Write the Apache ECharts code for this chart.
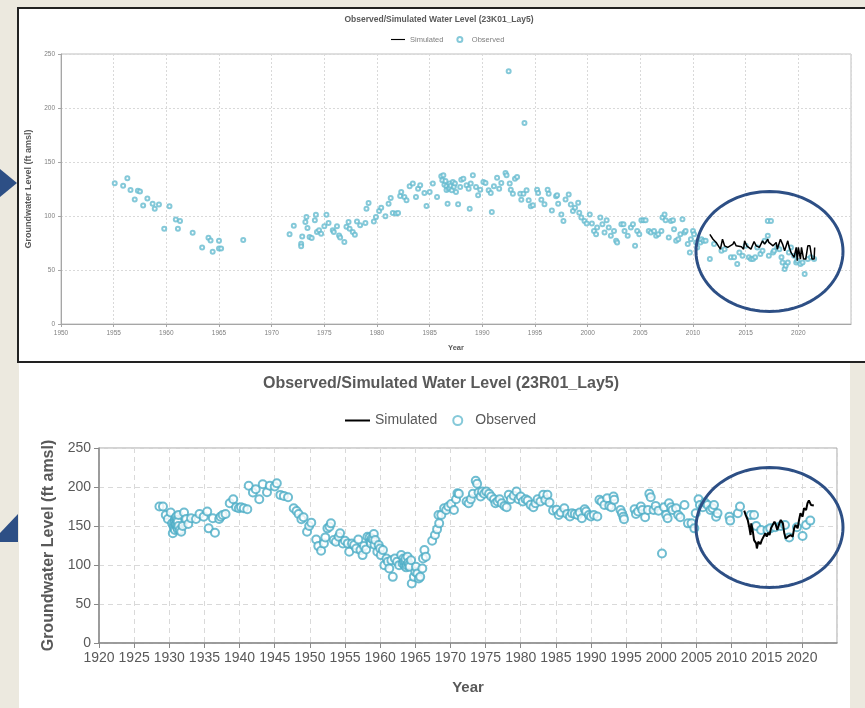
<!DOCTYPE html>
<html>
<head>
<meta charset="utf-8">
<script src="https://cdn.jsdelivr.net/npm/echarts@6/dist/echarts.min.js"></script>
<style>
html,body{margin:0;padding:0;background:#ECE9DF;}
#wrap{position:relative;width:865px;height:708px;overflow:hidden;background:#ECE9DF;}
#p1{position:absolute;left:17px;top:7px;width:848px;height:352px;background:#fff;border-top:2px solid #222;border-left:2px solid #222;border-bottom:2px solid #222;box-sizing:content-box;}
#p2{position:absolute;left:19px;top:363px;width:831px;height:345px;background:#fff;}
#chart{position:absolute;left:0;top:0;width:865px;height:708px;}
</style>
</head>
<body>
<div id="wrap">
<div id="p1"></div>
<div id="p2"></div>
<div id="chart"></div>
</div>
<script>
// ---------- DATA ----------
const titleTop = 'Observed/Simulated Water Level (23K01_Lay5)';
const titleBottom = 'Observed/Simulated Water Level (23R01_Lay5)';
const yearTicksTop = [1950, 2025];
const yearTicksBottom = [1920, 2025];

// Top chart: observed [year, ft amsl]
const obsTop = [
[1955.1,130.4],[1955.9,127.9],[1956.3,135],[1956.6,124],[1957.0,115.3],[1957.3,123.3],[1957.5,122.7],[1957.8,109.7],
[1958.2,116.2],[1958.7,111.3],[1958.9,106.7],[1959.3,110.7],[1959.8,88.2],[1960.3,109.1],[1960.9,96.8],[1961.1,88.2],
[1961.3,95.3],[1962.5,84.5],[1963.4,70.9],[1964.0,79.8],[1964.2,77.4],[1964.4,66.9],[1965.0,77.1],[1965.0,70.0],
[1965.2,70.0],[1967.3,77.7],
[1971.7,83],[1972.1,91],[1972.8,74.4],[1972.8,72],[1972.9,81],[1973.2,94.4],[1973.3,99],[1973.4,89],[1973.6,80.6],
[1973.8,79.6],[1974.1,96],[1974.2,101.2],[1974.3,85.2],[1974.5,86.7],[1974.7,83.6],[1975.0,90.4],[1975.2,101.2],
[1975.4,93.5],[1975.8,86.7],[1975.9,85.2],[1976.2,90.4],[1976.4,82],[1976.5,80],[1976.9,76],[1977.1,90],[1977.3,94.4],
[1977.4,88.3],[1977.7,85.2],[1977.9,82.7],[1978.1,95],[1978.4,91.4],[1978.9,93.5],[1979.0,106.8],[1979.2,112],
[1979.7,95],[1979.9,99],[1980.2,104.6],[1980.4,107.7],[1980.8,99.7],[1981.1,111.4],[1981.3,116.7],[1981.5,102.8],
[1981.8,102.2],[1982.0,102.8],[1982.2,118.5],[1982.3,122.2],[1982.6,117.6],[1982.8,114.5],[1983.1,127.5],[1983.4,130],
[1983.7,117.6],[1983.9,125.3],[1984.1,128.4],[1984.5,121.3],[1984.7,109.3],[1985.0,122.2],[1985.3,130],[1985.7,117.6],
[1986.1,136.7],[1986.2,133],[1986.3,137.7],[1986.4,129],[1986.5,132.4],[1986.6,127.5],[1986.6,124],[1986.7,111.4],
[1986.8,125.3],[1986.9,130],[1986.9,126],[1987.0,128],[1987.1,123.8],[1987.2,131.5],[1987.3,127],[1987.4,130],
[1987.5,122.2],[1987.7,110.8],[1987.9,126.8],[1988.0,133.6],[1988.2,134.6],[1988.5,128.4],[1988.7,125.3],[1988.8,106.8],
[1988.9,130],[1989.1,137.7],[1989.4,126.8],[1989.6,119.1],[1989.8,124.4],[1990.1,131.5],[1990.3,130.6],[1990.6,123.8],
[1990.8,121.3],[1990.9,103.7],[1991.1,127.5],[1991.4,135.5],[1991.6,125.3],[1991.8,130.6],[1992.2,139.8],[1992.3,137.7],
[1992.5,234],[1992.6,130],[1992.7,124.4],[1992.9,120.7],[1993.1,134.6],[1993.3,136.1],[1993.6,120.7],[1993.7,115.1],
[1993.9,120.7],[1994.0,186],[1994.2,123.8],[1994.4,114.5],[1994.6,109],[1994.8,109.9],[1995.2,124.4],[1995.3,121.3],
[1995.6,115.1],[1995.9,110.8],[1996.2,124.4],[1996.3,120.7],[1996.6,105.2],[1997.0,118.4],[1997.1,119.1],[1997.2,111.4],
[1997.5,101.5],[1997.7,95.4],[1997.9,115.3],[1998.2,120],[1998.4,110.7],[1998.6,104.6],[1998.8,107.7],[1999.1,112.3],
[1999.2,103],[1999.4,98.5],[1999.7,95.4],[1999.9,93],[2000.2,101.5],[2000.4,93],[2000.6,86.2],[2000.8,83.1],[2000.9,89.3],
[2001.2,98.5],[2001.4,92.3],[2001.6,84.7],[2001.8,96],[2002.0,89.3],[2002.2,81.6],[2002.5,86.2],[2002.7,77],[2002.8,75.5],
[2003.2,92.3],[2003.4,92.3],[2003.5,86.2],[2003.8,81.6],[2004.1,89.3],[2004.3,92.3],[2004.5,72.4],[2004.7,86.2],
[2004.9,83.1],[2005.1,96],[2005.3,96],[2005.5,96],[2005.8,86.2],[2006.0,84.7],[2006.3,86.2],[2006.5,81.6],[2006.7,83.1],
[2007.0,86.2],[2007.1,98.5],[2007.3,101.5],[2007.4,96],[2007.7,80],[2007.9,95.4],[2008.1,96],[2008.2,87.7],[2008.4,77],
[2008.6,78.5],[2008.8,83.1],[2009.0,96.9],[2009.2,84.7],[2009.3,86.2],[2009.5,74],[2009.7,66.3],[2009.8,78.5],
[2010.0,86.2],[2010.1,83.1],[2010.3,75.5],[2010.4,70.9],[2010.7,75.5],[2010.8,78.5],[2011.0,77],[2011.2,77],[2011.6,60.1],
[2012.0,74],[2012.7,67.8],[2013.0,69.3],[2013.6,61.7],[2013.9,61.7],[2014.2,55.5],[2014.4,66.3],[2014.7,63.2],[2015.0,72.4],
[2015.3,61.7],[2015.5,60.1],[2015.7,60.1],[2015.9,61.7],[2016.1,70.9],[2016.4,64.7],[2016.6,67.8],[2016.8,77],[2017.1,95.4],
[2017.4,95.4],[2017.1,81.6],[2017.2,63.2],[2017.6,66.3],[2017.7,67.8],[2018.0,70.9],[2018.2,69.3],[2018.4,61.7],[2018.5,57],
[2018.7,50.9],[2018.8,54],[2019.0,57],[2019.1,66.3],[2019.3,70.9],[2019.6,63.2],[2019.8,57],[2019.9,58.6],[2020.2,55.5],
[2020.4,57],[2020.6,46.3],[2020.9,60.1],[2021.2,61.7],[2021.5,60.1]
];

// Top chart: simulated
const simTop = [
[2011.6,83],[2011.7,83.7],[2011.9,78.5],[2012.0,80],[2012.2,75.5],[2012.3,74],[2012.6,69.3],[2012.8,78.5],[2013.0,72.4],
[2013.3,70.9],[2013.8,74],[2013.9,76.4],[2014.1,72.4],[2014.6,71.5],[2014.8,69.3],[2014.9,77],[2015.1,72.4],[2015.5,69.3],
[2015.8,76.4],[2016.0,72.4],[2016.3,70.9],[2016.6,77],[2016.8,74],[2017.1,78.5],[2017.2,75.5],[2017.6,72.4],[2017.9,75.5],
[2018.0,69.3],[2018.3,78.5],[2018.5,74],[2018.7,67.8],[2019.0,77],[2019.1,72.4],[2019.3,66.3],[2019.6,61.7],[2019.8,70.9],
[2019.9,58.6],[2020.0,70.9],[2020.2,60.1],[2020.3,70.9],[2020.5,60.1],[2020.7,60.1],[2020.9,72.4],[2021.1,72.4],
[2021.3,60.1],[2021.5,60.1],[2021.55,70.9]
];

// Bottom chart: observed
const obsBottom = [
[1928.6,174.9],[1929.1,174.9],[1929.5,164.2],[1929.8,159],[1930.2,167.2],[1930.4,153.4],[1930.5,140.6],[1930.6,150],
[1930.7,147],[1930.7,155],[1930.8,157.7],[1930.8,145],[1930.9,151.3],[1930.9,160],[1931.0,162],[1931.0,152],[1931.1,148.3],
[1931.1,158],[1931.2,155.6],[1931.2,146],[1931.3,164.2],[1931.3,150],[1931.5,144.8],[1931.7,142.7],[1931.9,150],
[1932.1,167.2],[1932.4,159],[1932.7,152.6],[1933.1,159.9],[1933.8,159],[1934.3,165.4],[1934.9,162],[1935.4,168.5],
[1935.6,147],[1936.2,159.9],[1936.5,141.4],[1937.1,159],[1937.3,162],[1937.6,164.2],[1938.0,165.4],[1938.6,179.2],
[1939.1,184.3],[1939.5,174],[1939.9,172.7],[1940.2,174],[1940.6,172.7],[1941.1,171.5],[1941.3,201.5],[1941.9,192.9],
[1942.3,197.2],[1942.8,184.3],[1943.3,203.6],[1943.9,193.3],[1944.3,201.5],[1945.0,200.6],[1945.3,204.9],[1945.8,189.9],
[1946.3,188.6],[1946.9,186.9],[1947.7,172.7],[1948.1,169.3],[1948.4,165.4],[1948.8,158.6],[1949.1,161.2],[1949.6,142.7],
[1949.9,150],[1950.2,154.3],[1950.9,132.8],[1951.2,124.2],[1951.6,118.2],[1952.0,127.7],[1952.2,135.4],[1952.5,147],
[1952.8,149.1],[1953.0,153.4],[1953.4,132],[1953.7,129.8],[1954.1,136.3],[1954.3,140.6],[1954.7,127.7],[1955.0,131.1],
[1955.4,127.7],[1955.6,116.9],[1956.0,127.7],[1956.3,125.5],[1956.6,121.2],[1956.9,132.8],[1957.2,119.1],[1957.5,112.7],
[1957.7,124.2],[1958.0,120],[1958.2,136.3],[1958.5,135.4],[1958.6,130],[1958.7,127.7],[1958.8,134],[1959.0,132.8],
[1959.1,139.7],[1959.2,126],[1959.3,132],[1959.6,116.9],[1959.8,125.5],[1960.0,121.2],[1960.1,112.7],[1960.4,119.1],
[1960.6,99.8],[1960.9,108.4],[1961.1,104.1],[1961.3,95.5],[1961.6,106.2],[1961.8,84.8],[1962.1,108.4],[1962.4,104.1],
[1962.7,99.8],[1963.0,112.7],[1963.2,102],[1963.3,108.4],[1963.4,104],[1963.5,99],[1963.6,104.1],[1963.6,108],[1963.7,97],
[1963.8,99.8],[1963.9,110.5],[1964.0,103],[1964.1,100],[1964.2,97.6],[1964.4,106.2],[1964.5,76.2],[1964.8,84.8],
[1965.0,91.2],[1965.1,97.6],[1965.3,89],[1965.5,82.6],[1965.7,84.8],[1966.0,95.5],[1966.1,108.4],[1966.3,119.1],
[1966.5,110.5],[1967.4,131.1],[1967.8,138.4],[1968.1,145.7],[1968.3,164.2],[1968.4,153.4],[1968.7,164.2],[1969.1,172.7],
[1969.4,170.6],[1969.7,174.9],[1970.1,178.3],[1970.5,170.6],[1970.8,184.3],[1971.0,192],[1971.2,191.3],[1972.3,181.4],
[1972.6,179.2],[1972.9,184.4],[1973.2,191.3],[1973.6,208],[1973.8,204.1],[1974.0,193],[1974.3,187.8],[1974.5,194.3],
[1974.8,191.3],[1975.1,194.3],[1975.5,191.3],[1975.8,187.8],[1976.2,184.4],[1976.4,179.2],[1976.7,181.4],[1977.0,184.4],
[1977.3,179.2],[1977.7,175.8],[1978.0,174.1],[1978.3,190],[1978.6,184.4],[1979.0,188.7],[1979.4,194.3],[1979.7,184.4],
[1980.0,187.8],[1980.3,181.4],[1980.7,184.4],[1981.0,182.7],[1981.4,177.1],[1981.8,174.1],[1982.1,179.2],[1982.4,184.4],
[1982.8,181.4],[1983.2,190],[1983.5,183.5],[1983.8,190],[1984.1,180.1],[1984.6,169.8],[1985.1,170.7],[1985.4,164.2],
[1985.7,167.2],[1986.2,172.8],[1986.6,165.5],[1987.0,162.1],[1987.3,166.4],[1987.7,165.5],[1988.1,164.2],[1988.4,167.2],
[1988.7,160],[1989.1,171.5],[1989.3,168.5],[1989.7,164.2],[1990.0,162.1],[1990.4,164.2],[1990.9,162.1],[1991.2,183.5],
[1991.5,181.3],[1991.9,177],[1992.3,185.6],[1992.6,175.8],[1992.9,174],[1993.2,187.8],[1993.3,183.5],[1994.2,170.6],
[1994.4,166.3],[1994.6,162],[1994.7,158.6],[1996.2,171.5],[1996.4,165.5],[1996.7,168.5],[1997.1,174.9],[1997.3,170.6],
[1997.7,161.2],[1998.1,170.6],[1998.3,191.2],[1998.5,186.9],[1998.9,170.6],[1999.2,175.8],[1999.6,169.7],[2000.1,114.8],
[2000.4,174],[2000.7,164.2],[2000.9,159.9],[2001.1,179.2],[2001.4,174],[2001.6,170.6],[2002.1,172.8],[2002.4,164.2],
[2002.7,161.2],[2003.3,177],[2003.8,153.4],[2004.3,153.4],[2004.7,147],[2004.9,166.3],[2005.3,184.3],[2005.5,177],
[2005.9,174],[2006.2,180],[2006.6,177],[2007.0,170.6],[2007.3,172.8],[2007.5,177],[2007.8,162],[2008.0,166.3],
[2009.7,162],[2009.8,156.9],[2010.9,166.3],[2011.2,174.9],[2012.7,164.2],[2013.2,164.2],[2013.5,150],[2014.2,144.8],
[2015.1,144.8],[2015.5,147],[2016.2,148.3],[2017.0,150],[2017.6,151.3],[2018.2,135.4],[2019.3,148.3],[2020.1,137.1],
[2020.6,151.3],[2021.2,156.9]
];

// Bottom chart: simulated
const simBottom = [
[2011.8,169.7],[2012.0,164.2],[2012.3,157.7],[2012.5,149.1],[2012.7,138.4],[2012.8,153.4],[2013.0,144.8],[2013.2,131.9],
[2013.5,127.7],[2013.6,121.2],[2013.8,129.8],[2014.1,126.8],[2014.3,131.9],[2014.5,131.1],[2014.8,140.6],[2015.0,136.3],
[2015.2,141.5],[2015.4,138.4],[2015.6,147],[2015.8,144.8],[2016.1,155.6],[2016.3,151.3],[2016.5,144.8],[2016.8,153.4],
[2017.0,157.7],[2017.3,153.4],[2017.5,140.6],[2017.7,134.1],[2018.0,136.3],[2018.2,134.1],[2018.4,138.4],[2018.7,136.3],
[2018.9,147],[2019.1,151.3],[2019.4,147],[2019.6,157.7],[2019.8,166.3],[2020.1,162],[2020.3,172.8],[2020.6,170.6],
[2020.8,179.2],[2021.0,182.7],[2021.3,177],[2021.5,179.2],[2021.7,176.2]
];

// ---------- CHART ----------
const F = "'Liberation Sans',Arial,sans-serif";
const chart = echarts.init(document.getElementById('chart'), null, {renderer:'canvas'});

function ellipse(cx, cy, rx, ry){
  const p=[]; for(let i=0;i<96;i++){const a=i/96*2*Math.PI; p.push([cx+rx*Math.cos(a), cy+ry*Math.sin(a)]);} return p;
}
const yearFmt = v => String(v);
const LINE_ICON = 'path://M0,0h25v2h-25z';

const gridTop = {left:61, right:865-851, top:54, bottom:708-324, show:true, borderColor:'#BFBFBF', borderWidth:1};
const gridBot = {left:99, right:865-837, top:448, bottom:708-643, show:true, borderColor:'#A6A6A6', borderWidth:1};

chart.setOption({
  backgroundColor:'transparent',
  animation:false,
  title:[
    {text:titleTop, left:439, textAlign:'center', top:15, padding:0, textStyle:{fontFamily:F, fontSize:8.5, fontWeight:'bold', color:'#595959'}},
    {text:titleBottom, left:441, textAlign:'center', top:376, padding:0, textStyle:{fontFamily:F, fontSize:16, fontWeight:'bold', color:'#595959'}}
  ],
  legend:[
    {top:35.5, left:391, padding:0, itemWidth:14, itemHeight:5, itemGap:13, textStyle:{fontFamily:F, fontSize:7.5, color:'#7F7F7F'},
     data:[{name:'Simulated', icon:LINE_ICON, itemStyle:{color:'#000'}},{name:'Observed', icon:'emptyCircle'}]},
    {top:413.5, left:345, padding:0, itemWidth:25, itemHeight:9, itemGap:15, textStyle:{fontFamily:F, fontSize:14, color:'#595959'},
     data:[{name:'Simulated', icon:LINE_ICON, itemStyle:{color:'#000'}},{name:'Observed', icon:'emptyCircle', itemStyle:{borderWidth:1.3}}]}
  ],
  grid:[gridTop, gridBot],
  xAxis:[
    {type:'value', gridIndex:0, min:yearTicksTop[0], max:yearTicksTop[1], interval:5,
     name:'Year', nameLocation:'middle', nameGap:20, nameTextStyle:{fontFamily:F, fontSize:7.5, fontWeight:'bold', color:'#595959'},
     axisLine:{lineStyle:{color:'#A6A6A6'}}, axisTick:{show:true, length:3, lineStyle:{color:'#A6A6A6'}},
     axisLabel:{fontFamily:F, fontSize:6.5, color:'#7F7F7F', margin:6, showMaxLabel:false, formatter:yearFmt},
     splitLine:{show:true, lineStyle:{color:'#D9D9D9', type:[2,2]}}},
    {type:'value', gridIndex:1, min:yearTicksBottom[0], max:yearTicksBottom[1], interval:5,
     name:'Year', nameLocation:'middle', nameGap:37, nameTextStyle:{fontFamily:F, fontSize:15, fontWeight:'bold', color:'#595959'},
     axisLine:{lineStyle:{color:'#898989', width:1.5}}, axisTick:{show:true, length:5, lineStyle:{color:'#898989'}},
     axisLabel:{fontFamily:F, fontSize:14, color:'#595959', margin:8, showMaxLabel:false, formatter:yearFmt},
     splitLine:{show:true, lineStyle:{color:'#D9D9D9', type:[5,4]}}}
  ],
  yAxis:[
    {type:'value', gridIndex:0, min:0, max:250, interval:50,
     name:'Groundwater Level (ft amsl)', nameLocation:'middle', nameGap:20,
     nameTextStyle:{fontFamily:F, fontSize:9, fontWeight:'bold', color:'#595959'},
     axisLine:{show:true, lineStyle:{color:'#A6A6A6'}}, axisTick:{show:true, length:3, lineStyle:{color:'#A6A6A6'}},
     axisLabel:{fontFamily:F, fontSize:6.5, color:'#7F7F7F', margin:6},
     splitLine:{show:true, lineStyle:{color:'#D9D9D9', type:[2,2]}}},
    {type:'value', gridIndex:1, min:0, max:250, interval:50,
     name:'Groundwater Level (ft amsl)', nameLocation:'middle', nameGap:40,
     nameTextStyle:{fontFamily:F, fontSize:16, fontWeight:'bold', color:'#595959'},
     axisLine:{show:true, lineStyle:{color:'#898989', width:1.5}}, axisTick:{show:true, length:5, lineStyle:{color:'#898989'}},
     axisLabel:{fontFamily:F, fontSize:14, color:'#595959', margin:8},
     splitLine:{show:true, lineStyle:{color:'#D9D9D9', type:[5,4]}}}
  ],
  series:[
    {name:'Observed', type:'scatter', xAxisIndex:0, yAxisIndex:0, data:obsTop, symbol:'emptyCircle', symbolSize:4,
     itemStyle:{color:'#66BBD0', borderColor:'#66BBD0', borderWidth:0.8}, z:2},
    {name:'Simulated', type:'line', xAxisIndex:0, yAxisIndex:0, data:simTop, symbol:'none', showSymbol:false,
     lineStyle:{color:'#000', width:1.5}, itemStyle:{color:'#000'}, z:3},
    {name:'Observed', type:'scatter', xAxisIndex:1, yAxisIndex:1, data:obsBottom, symbol:'emptyCircle', symbolSize:8,
     itemStyle:{color:'#4BACC6', borderColor:'#4BACC6', borderWidth:1.2}, z:2},
    {name:'Simulated', type:'line', xAxisIndex:1, yAxisIndex:1, data:simBottom, symbol:'none', showSymbol:false,
     lineStyle:{color:'#000', width:2}, itemStyle:{color:'#000'}, z:3}
  ],
  graphic:[
    {type:'polygon', z:100, shape:{points:ellipse(769.5,251.5,73.5,60)}, style:{fill:'none', stroke:'#2D4F85', lineWidth:3}},
    {type:'polygon', z:100, shape:{points:ellipse(769.5,527.5,73.5,60)}, style:{fill:'none', stroke:'#2D4F85', lineWidth:3}},
    {type:'polygon', z:100, shape:{points:[[0,169],[17,183],[0,197]]}, style:{fill:'#2D4F85'}},
    {type:'polygon', z:100, shape:{points:[[0,533],[18,514],[18,542],[0,542]]}, style:{fill:'#2D4F85'}}
  ]
});
</script>
</body>
</html>
